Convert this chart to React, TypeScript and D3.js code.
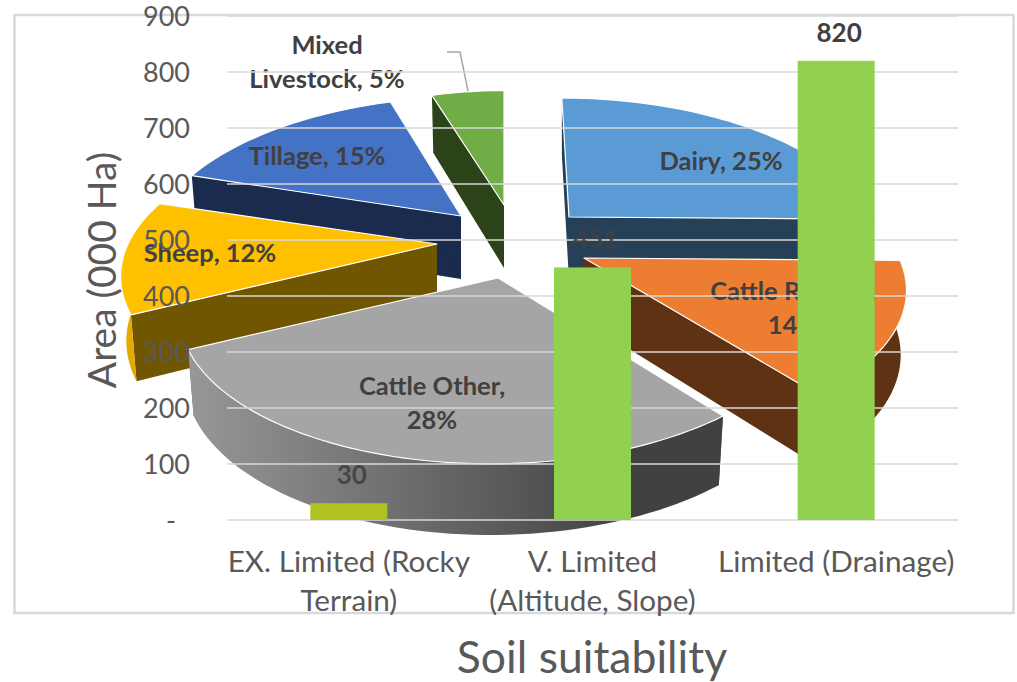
import React from "react";
import * as d3 from "d3";

// bar chart values
const categories = ["EX. Limited (Rocky Terrain)", "V. Limited (Altitude, Slope)", "Limited (Drainage)"];
const categoryLines = [["EX. Limited (Rocky", "Terrain)"], ["V. Limited", "(Altitude, Slope)"], ["Limited (Drainage)"]];
const areaValues = [30, 451, 820];
const barColors = ["#b0c122", "#92d050", "#92d050"];
const yTicks = [0, 100, 200, 300, 400, 500, 600, 700, 800, 900];

// pie values, clockwise from the top
const pieNames = ["Dairy", "Cattle Rearing", "Cattle Other", "Sheep", "Tillage", "Mixed Livestock"];
const pieShares = [25, 14, 28, 12, 15, 5];

// pie styling and where each exploded slice sits
const topColors = ["#5b9bd5", "#ed7d31", "#a5a5a5", "#ffc000", "#4472c4", "#70ad47"];
const sideColors = ["#254057", "#5f3214", "#5a5a5a", "#705600", "#1b2b4d", "#2c4219"];
const wallColors = ["#254057", "#5f3214", "url(#otherWall)", "#e3aa00", "#1b2b4d", "#2c4219"];
const apexX = [569, 584, 498, 437, 461, 504];
const apexY = [217, 258, 278, 244, 216, 205];
const radiusX = [304, 315, 310, 309, 303, 278];
const radiusY = [144.5, 144.5, 146, 144.5, 144.5, 139];
const lean = [0.06, 0, -0.04, 0, -0.07, 0];
const taper = [0.018, 0.018, 0.018, 0.018, 0.018, 0.018];
const drawOrder = [0, 4, 5, 3, 1, 2];

const pieLabels = [
  { lines: ["Dairy, 25%"], x: 721, y: 170 },
  { lines: ["Cattle Rearing,", "14%"], x: 793, y: 300 },
  { lines: ["Cattle Other,", "28%"], x: 432, y: 395 },
  { lines: ["Sheep, 12%"], x: 210, y: 262 },
  { lines: ["Tillage, 15%"], x: 317, y: 165 },
  { lines: ["Mixed", "Livestock, 5%"], x: 327, y: 54 },
];

const FONT = "Lato, 'Open Sans', sans-serif";
const TEXT = "#595959";
const LABEL = "#404040";
const GRID = "#d9d9d9";

const width = 1017;
const height = 682;
const plotLeft = 227;
const plotRight = 958;

const yScale = d3.scaleLinear().domain([0, 900]).range([520, 16]);
const xScale = d3.scaleBand<string>().domain(categories).range([plotLeft, plotRight]).paddingInner(0.684).paddingOuter(0.342);

const persp = 0.2145;
const thick = 63;
const line = d3.line<[number, number]>();

// maps an angle on the pie to the screen, with a bit of perspective
function project(i: number, angle: number, down: boolean): [number, number] {
  const z = Math.cos(angle);
  const w = 1 / (1 + persp * z);
  const X = radiusX[i] * Math.sin(angle) * w;
  const Y = -radiusY[i] * z * w;
  const px = apexX[i] + X + lean[i] * Y;
  const py = apexY[i] + Y;
  if (!down) return [px, py];
  return [px - X * taper[i], py + thick * Math.sqrt(w)];
}

function arcAngles(a0: number, a1: number) {
  const n = Math.max(2, Math.ceil((a1 - a0) / 0.03));
  return d3.range(n + 1).map((k) => a0 + ((a1 - a0) * k) / n);
}

function PieSlice({ i, arc }: { i: number; arc: d3.PieArcDatum<number> }) {
  const a0 = arc.startAngle;
  const a1 = arc.endAngle;
  const apex: [number, number] = [apexX[i], apexY[i]];
  const apexDown: [number, number] = [apexX[i], apexY[i] + thick];
  const top = arcAngles(a0, a1).map((a) => project(i, a, false));
  const cut = (a: number) => [apex, project(i, a, false), project(i, a, true), apexDown] as [number, number][];

  const wall0 = Math.max(a0, Math.PI / 2);
  const wall1 = Math.min(a1, (Math.PI * 3) / 2);
  let wall: string | null = null;
  if (wall1 > wall0) {
    const angles = arcAngles(wall0, wall1);
    const pts = [...angles.map((a) => project(i, a, false)), ...angles.reverse().map((a) => project(i, a, true))];
    wall = line(pts) + "Z";
  }

  return (
    <g>
      <path d={line(cut(a0)) + "Z"} fill={sideColors[i]} />
      <path d={line(cut(a1)) + "Z"} fill={sideColors[i]} />
      {wall && <path d={wall} fill={wallColors[i]} />}
      <path d={line([apex, ...top]) + "Z"} fill={topColors[i]} stroke="#fff" strokeWidth={1.2} strokeLinejoin="round" />
    </g>
  );
}

export default function App() {
  const arcs = d3.pie<number>().sort(null)(pieShares);

  return (
    <svg width={width} height={height} style={{ position: "absolute", left: 0, top: 0, background: "#fff" }} fontFamily={FONT}>
      <defs>
        <linearGradient id="otherWall" gradientUnits="userSpaceOnUse" x1={190} x2={630} y1={0} y2={0}>
          <stop offset="0" stopColor="#979797" />
          <stop offset="1" stopColor="#414141" />
        </linearGradient>
      </defs>

      <rect x={14.5} y={15} width={999} height={598} fill="#fff" stroke={GRID} strokeWidth={2.5} />

      {/* the exploded pie sits behind the bar chart */}
      {drawOrder.map((i) => (
        <PieSlice key={pieNames[i]} i={i} arc={arcs[i]} />
      ))}
      <path d="M447,52H460L468,91" fill="none" stroke="#a6a6a6" strokeWidth={1.5} />
      {pieLabels.map((d, i) => (
        <text key={i} textAnchor="middle" fontSize={25.5} fontWeight={700} fill={LABEL}>
          {d.lines.map((t, k) => (
            <tspan key={k} x={d.x} y={d.y + k * 34}>
              {t}
            </tspan>
          ))}
        </text>
      ))}

      {yTicks.map((t) => (
        <line key={t} x1={plotLeft} x2={plotRight} y1={yScale(t)} y2={yScale(t)} stroke={GRID} strokeWidth={1.6} />
      ))}
      {yTicks.map((t) => (
        <text key={t} x={t === 0 ? 176 : 190} y={yScale(t) + 10} textAnchor="end" fontSize={27} fill={TEXT}>
          {t === 0 ? "-" : t}
        </text>
      ))}

      {categories.map((c, i) => (
        <g key={c}>
          <rect x={xScale(c)} y={yScale(areaValues[i])} width={xScale.bandwidth()} height={yScale(0) - yScale(areaValues[i])} fill={barColors[i]} />
          <text x={xScale(c)! + xScale.bandwidth() / 2 + 3} y={yScale(areaValues[i]) - 19} textAnchor="middle" fontSize={26} fontWeight={700} fill={LABEL} fillOpacity={i === 2 ? 1 : 0.9}>
            {areaValues[i]}
          </text>
          <text textAnchor="middle" fontSize={29.7} fill={TEXT}>
            {categoryLines[i].map((t, k) => (
              <tspan key={k} x={xScale(c)! + xScale.bandwidth() / 2} y={572 + k * 39}>
                {t}
              </tspan>
            ))}
          </text>
        </g>
      ))}

      <text transform="translate(116,270) rotate(-90)" textAnchor="middle" fontSize={39} fill={TEXT}>
        Area (000 Ha)
      </text>
      <text x={592} y={673} textAnchor="middle" fontSize={44.5} fill={TEXT}>
        Soil suitability
      </text>
    </svg>
  );
}
